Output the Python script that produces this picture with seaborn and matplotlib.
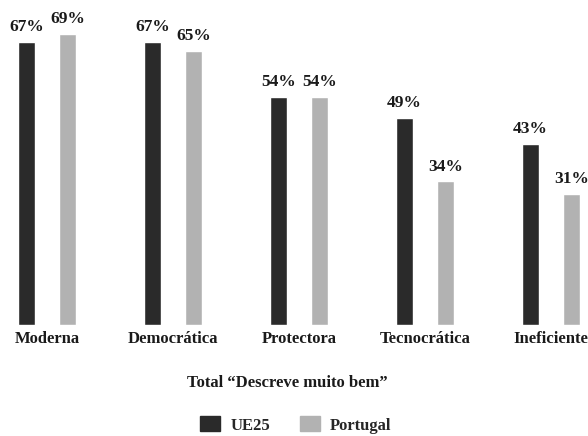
import pandas as pd
import seaborn as sns
import matplotlib.pyplot as plt

sns.set_theme(style="white")
plt.rcParams['font.family'] = ['Liberation Serif', 'DejaVu Serif']
plt.rcParams['font.weight'] = 'bold'

#data
categories = ["Moderna", "Democrática", "Protectora", "Tecnocrática", "Ineficiente"]
ue25 = [67, 67, 54, 49, 43]
portugal = [69, 65, 54, 34, 31]
series = ["UE25", "Portugal"]

df = pd.DataFrame({
    "categoria": categories * 2,
    "valor": ue25 + portugal,
    "serie": [series[0]] * len(categories) + [series[1]] * len(categories),
})

fig = plt.figure(figsize=(5.88, 4.36), dpi=100)
ax = fig.add_axes([0, (436 - 325) / 436, 1, 325 / 436])

sns.barplot(data=df, x="categoria", y="valor", hue="serie",
            palette=["#2a2a2a", "#b2b2b2"], width=0.65, gap=0.585,
            saturation=1, ax=ax, legend=False)

#percent labels on top of the bars
for c in ax.containers:
    ax.bar_label(c, labels=[f"{int(v)}%" for v in c.datavalues],
                 padding=5, fontsize=12.5, fontweight="bold", color="#1a1a1a")

ax.set_xlim(-47 / 126, (588 - 47) / 126)
ax.set_ylim(0, 77)
ax.set_xlabel("")
ax.set_ylabel("")
ax.set_yticks([])
ax.tick_params(axis="x", length=0, pad=4, labelsize=12, colors="#1a1a1a")
for lbl in ax.get_xticklabels():
    lbl.set_fontweight("bold")
sns.despine(ax=ax, left=True, bottom=True)

fig.text(287 / 588, 1 - 383 / 436, "Total \u201cDescreve muito bem\u201d",
         ha="center", va="center", fontsize=12, fontweight="bold", color="#1a1a1a")

handles = [plt.Rectangle((0, 0), 1, 1, color="#2a2a2a"),
           plt.Rectangle((0, 0), 1, 1, color="#b2b2b2")]
fig.legend(handles, series, loc="center", bbox_to_anchor=(296 / 588, 1 - 425 / 436),
           ncol=2, frameon=False, handlelength=1.2, handleheight=1.0,
           columnspacing=1.8, handletextpad=0.6,
           prop={"weight": "bold", "size": 12})

fig.savefig("out.png", dpi=100)
